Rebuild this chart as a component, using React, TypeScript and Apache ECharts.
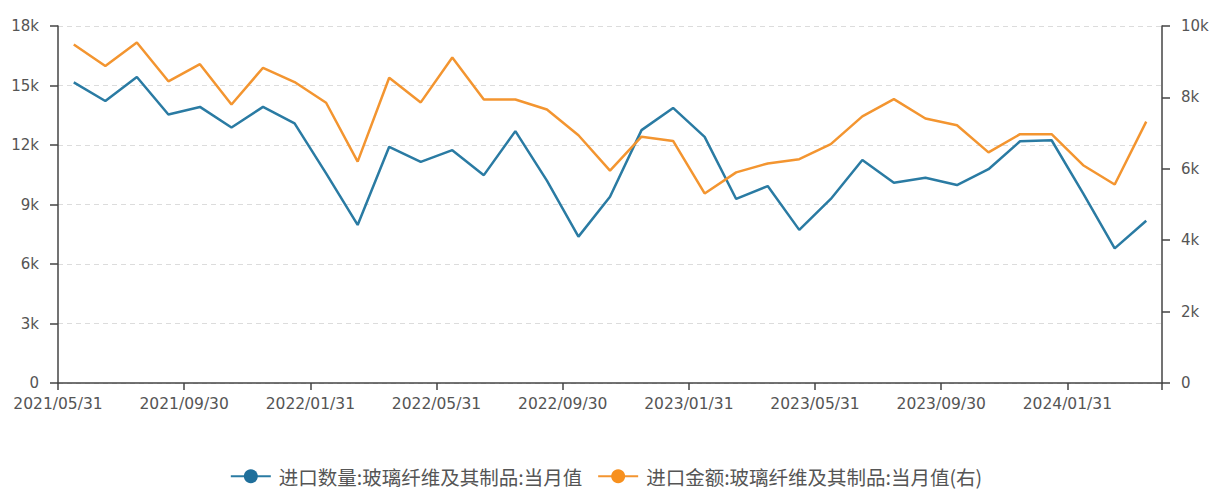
import React, { useEffect, useRef } from 'react';
import * as echarts from 'echarts';

// Monthly observation dates (one per data point)
const dates = [
  '2021/05/31', '2021/06/30', '2021/07/31', '2021/08/31', '2021/09/30', '2021/10/31', '2021/11/30', '2021/12/31',
  '2022/01/31', '2022/02/28', '2022/03/31', '2022/04/30', '2022/05/31', '2022/06/30', '2022/07/31', '2022/08/31',
  '2022/09/30', '2022/10/31', '2022/11/30', '2022/12/31', '2023/01/31', '2023/02/28', '2023/03/31', '2023/04/30',
  '2023/05/31', '2023/06/30', '2023/07/31', '2023/08/31', '2023/09/30', '2023/10/31', '2023/11/30', '2023/12/31',
  '2024/01/31', '2024/02/29', '2024/03/31',
];

// Tick labels sit on the band boundaries (one more than the data points)
const tickLabels = [...dates, '2024/04/30'];

const seriesNames = ['进口数量:玻璃纤维及其制品:当月值', '进口金额:玻璃纤维及其制品:当月值(右)'];

// 进口数量 (left axis)
const quantity = [
  15160, 14220, 15430, 13540, 13920, 12880, 13920, 13090, 10570, 7970,
  11910, 11150, 11740, 10480, 12700, 10200, 7380, 9390, 12750, 13870,
  12410, 9280, 9930, 7720, 9280, 11240, 10100, 10350, 9980, 10780,
  12190, 12240, 9560, 6790, 8180,
];

// 进口金额 (right axis)
const amount = [
  9480, 8880, 9540, 8450, 8930, 7800, 8830, 8430, 7850, 6200,
  8550, 7860, 9120, 7940, 7940, 7660, 6940, 5950, 6900, 6780,
  5310, 5900, 6150, 6270, 6690, 7470, 7950, 7410, 7220, 6460,
  6970, 6970, 6100, 5560, 7320,
];

const leftAxis = { min: 0, max: 18000, interval: 3000 };
const rightAxis = { min: 0, max: 10000, interval: 2000 };

const colors = ['#2a7ba3', '#f39530'];

const kFormat = (v: number) => (v === 0 ? '0' : `${v / 1000}k`);

export default function App() {
  const ref = useRef<HTMLDivElement>(null);

  useEffect(() => {
    if (!ref.current) return;
    const chart = echarts.init(ref.current, undefined, { renderer: 'svg' });
    const axisFont = { fontFamily: 'DejaVu Sans', fontSize: 15, color: '#555' };
    const axisLineStyle = { color: '#444', width: 1.5 };
    chart.setOption({
      animation: false,
      backgroundColor: '#fff',
      color: colors,
      grid: { left: 58, right: 50, top: 26, bottom: 111, containLabel: false },
      legend: {
        bottom: 3,
        left: 'center',
        itemWidth: 40,
        itemHeight: 17.5,
        itemGap: 15,
        textStyle: { fontFamily: 'Noto Sans CJK SC', fontSize: 19.5, color: '#555', padding: [0, 0, 0, 3] },
        data: seriesNames,
      },
      xAxis: [
        {
          type: 'category',
          data: dates,
          boundaryGap: true,
          show: false,
        },
        {
          type: 'category',
          data: tickLabels,
          boundaryGap: false,
          position: 'bottom',
          axisLine: { show: true, lineStyle: axisLineStyle },
          axisTick: {
            show: true,
            length: 7,
            lineStyle: axisLineStyle,
            interval: (i: number) => i % 4 === 0 || i === tickLabels.length - 1,
          },
          axisLabel: {
            ...axisFont,
            fontSize: 15.5,
            margin: 13,
            interval: (i: number) => i % 4 === 0 && i < dates.length,
          },
          splitLine: { show: false },
        },
      ],
      yAxis: [
        {
          type: 'value',
          position: 'left',
          ...leftAxis,
          axisLine: { show: true, lineStyle: axisLineStyle },
          axisTick: { show: true, length: 8, lineStyle: axisLineStyle },
          axisLabel: { ...axisFont, margin: 19, formatter: kFormat },
          splitLine: { show: true, lineStyle: { color: '#dcdcdc', type: [5, 4], width: 1 } },
        },
        {
          type: 'value',
          position: 'right',
          ...rightAxis,
          axisLine: { show: true, lineStyle: axisLineStyle },
          axisTick: { show: true, length: 8, lineStyle: axisLineStyle },
          axisLabel: { ...axisFont, margin: 19, formatter: kFormat },
          splitLine: { show: false },
        },
      ],
      series: [
        {
          name: seriesNames[0],
          type: 'line',
          xAxisIndex: 0,
          yAxisIndex: 0,
          data: quantity,
          symbol: 'none',
          lineStyle: { width: 2.5, color: colors[0] },
          itemStyle: { color: '#1f6f9b' },
        },
        {
          name: seriesNames[1],
          type: 'line',
          xAxisIndex: 0,
          yAxisIndex: 1,
          data: amount,
          symbol: 'none',
          lineStyle: { width: 2.5, color: colors[1] },
          itemStyle: { color: '#f7901e' },
        },
      ],
    });
    return () => chart.dispose();
  }, []);

  return (
    <div
      ref={ref}
      style={{ position: 'absolute', left: 0, top: 0, width: 1212, height: 494, background: '#fff' }}
    />
  );
}
